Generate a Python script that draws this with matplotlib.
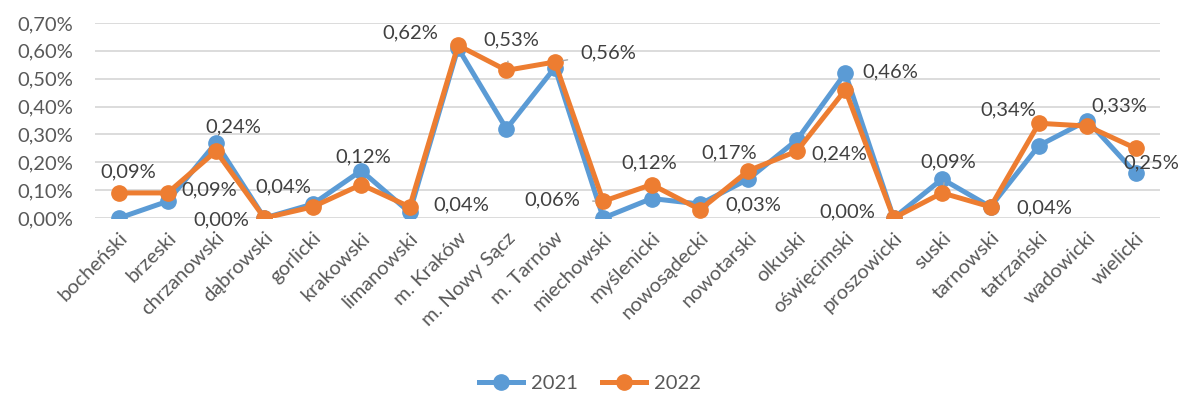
import numpy as np
import matplotlib.pyplot as plt

plt.rcParams['font.family'] = ['Lato', 'DejaVu Sans']

powiaty = ["bocheński", "brzeski", "chrzanowski", "dąbrowski", "gorlicki", "krakowski",
           "limanowski", "m. Kraków", "m. Nowy Sącz", "m. Tarnów", "miechowski", "myślenicki",
           "nowosądecki", "nowotarski", "olkuski", "oświęcimski", "proszowicki", "suski",
           "tarnowski", "tatrzański", "wadowicki", "wielicki"]
v2021 = [0.00, 0.06, 0.27, 0.00, 0.05, 0.17, 0.02, 0.61, 0.32, 0.54, 0.00, 0.07,
         0.05, 0.14, 0.28, 0.52, 0.00, 0.14, 0.04, 0.26, 0.35, 0.16]
v2022 = [0.09, 0.09, 0.24, 0.00, 0.04, 0.12, 0.04, 0.62, 0.53, 0.56, 0.06, 0.12,
         0.03, 0.17, 0.24, 0.46, 0.00, 0.09, 0.04, 0.34, 0.33, 0.25]

# label offsets (pixels) for the 2022 data labels
offs = [(9, 21), (42, 3), (17, 24), (-43, -2), (-30, 20), (2, 28), (52, 2), (-48, 12),
        (5, 30), (53, 9), (-51, 1), (-2, 22), (53, 5), (-19, 18), (42, -3), (45, 18),
        (-46, 6), (6, 31), (54, -1), (-31, 13), (32, 20), (16, -15)]
leaders = {8, 9, 10, 17}

blue = '#5B9BD5'
orange = '#ED7D31'
txt = '#595959'

fig = plt.figure(figsize=(11.8, 4.0), dpi=100)
ax = fig.add_axes([0.0805, 0.455, 0.9025, 0.4875])
x = np.arange(len(powiaty))

ax.plot(x, v2021, color=blue, lw=3.6, marker='o', ms=11, label='2021', zorder=3)
ax.plot(x, v2022, color=orange, lw=3.6, marker='o', ms=11, label='2022', zorder=4)

for i, v in enumerate(v2022):
    dx, dy = offs[i]
    ap = None
    if i in leaders:
        ap = dict(arrowstyle='-', color='#A6A6A6', lw=1, shrinkA=7, shrinkB=6)
    ax.annotate(f"{v:.2f}%".replace('.', ','), (i, v), xytext=(dx, dy),
                textcoords='offset pixels', ha='center', va='center',
                fontsize=14.5, color='#404040', arrowprops=ap, zorder=5)

ax.set_xlim(-0.5, len(powiaty) - 0.5)
ax.set_ylim(0, 0.7)
yt = np.arange(0, 0.71, 0.1)
ax.set_yticks(yt)
ax.set_yticklabels([f"{t:.2f}%".replace('.', ',') for t in yt], fontsize=14.5, color=txt)
ax.set_xticks(x)
ax.set_xticklabels(powiaty, rotation=45, ha='right', rotation_mode='anchor',
                   fontsize=14.5, color=txt)
ax.tick_params(length=0, axis='both')
ax.tick_params(axis='y', pad=16)
ax.tick_params(axis='x', pad=8)
ax.grid(axis='y', color='#D9D9D9', lw=1.3)
ax.set_axisbelow(True)
for s in ax.spines.values():
    s.set_visible(False)

fig.legend(loc='lower center', ncol=2, frameon=False, fontsize=14.5,
           bbox_to_anchor=(0.5, -0.025), handlelength=2.2, handletextpad=0.4,
           columnspacing=1.2, labelcolor=txt)

fig.savefig('out.png', dpi=100)
